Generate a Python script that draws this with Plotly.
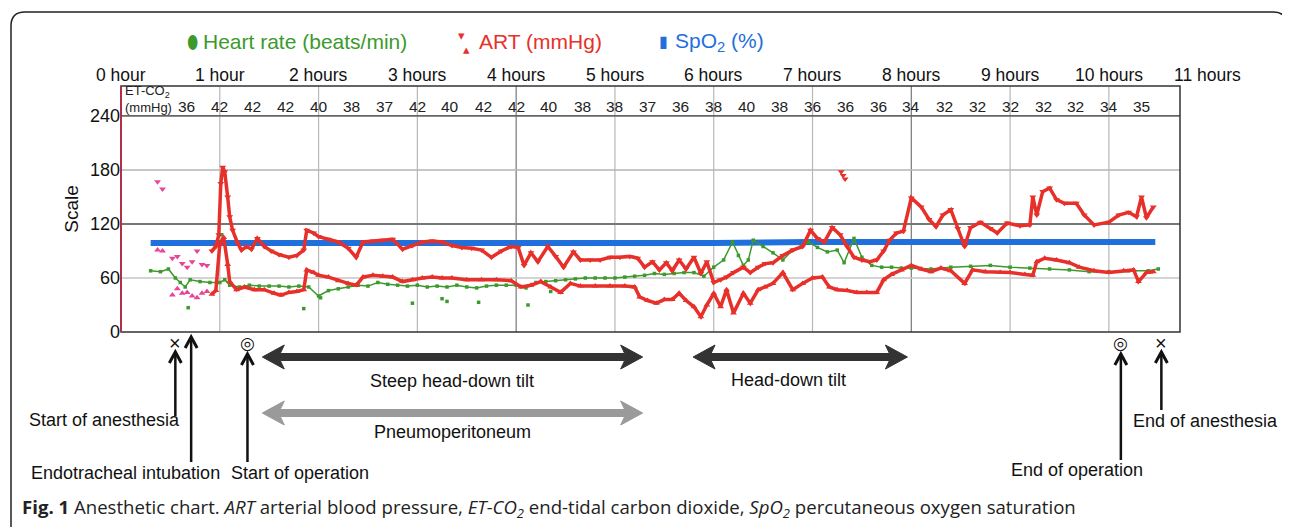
import plotly.graph_objects as go

# ---------------- data ----------------
hours_labels = ["0 hour", "1 hour", "2 hours", "3 hours", "4 hours", "5 hours", "6 hours",
                "7 hours", "8 hours", "9 hours", "10 hours", "11 hours"]
hours_pos = [0, 1, 2, 3, 4, 5, 6, 7, 8, 9, 10, 11]

etco2_times = [0.667 + i / 3 for i in range(30)]
etco2_vals = [36, 42, 42, 42, 40, 38, 37, 42, 40, 42, 42, 40, 38, 38, 37,
              36, 38, 40, 38, 36, 36, 36, 34, 32, 32, 32, 32, 32, 34, 35]

spo2_t = [0.3, 1.0, 2.0, 3.0, 4.0, 5.0, 6.0, 7.0, 8.0, 9.0, 10.0, 10.47]
spo2 = [99, 99, 98, 99, 99, 99, 99, 100, 100, 101, 101, 100]

hr_t = [0.3, 0.4, 0.48, 0.55, 0.6, 0.65, 0.7, 0.8, 0.9, 1.0, 1.05, 1.1, 1.2, 1.3, 1.4, 1.5,
        1.6, 1.7, 1.8, 1.9, 2.0, 2.1, 2.2, 2.3, 2.4, 2.5, 2.6, 2.7, 2.8, 2.9, 3.0, 3.1,
        3.2, 3.3, 3.4, 3.5, 3.6, 3.7, 3.8, 3.9, 4.0, 4.1, 4.2, 4.3, 4.4, 4.5, 4.6, 4.7,
        4.8, 4.9, 5.0, 5.1, 5.2, 5.3, 5.4, 5.5, 5.6, 5.7, 5.8, 5.9, 6.0, 6.1, 6.19, 6.25,
        6.3, 6.35, 6.4, 6.5, 6.6, 6.7, 6.8, 6.9, 6.96, 7.05, 7.15, 7.25, 7.32, 7.42, 7.5,
        7.6, 7.7, 7.8, 7.9, 8.0, 8.2, 8.4, 8.6, 8.8, 9.0, 9.2, 9.4, 9.6, 9.8, 10.0, 10.2,
        10.4, 10.5]
hr = [68, 67, 70, 60, 55, 50, 58, 56, 55, 55, 58, 52, 50, 52, 51, 51,
      51, 50, 51, 50, 40, 46, 48, 50, 52, 51, 55, 53, 52, 51, 52, 50,
      51, 50, 52, 50, 49, 51, 52, 52, 52, 49, 55, 56, 57, 58, 59, 60,
      60, 60, 60, 61, 62, 63, 65, 64, 65, 66, 66, 62, 72, 80, 100, 85,
      74, 80, 102, 95, 88, 80, 91, 96, 100, 94, 89, 91, 77, 104, 83,
      74, 72, 72, 71, 71, 70, 72, 73, 74, 72, 71, 70, 69, 67, 67, 68,
      68, 70]
hr_out_t = [0.68, 1.02, 1.85, 2.02, 2.95, 3.25, 3.3, 3.62, 4.12, 4.35]
hr_out = [27, 108, 26, 38, 32, 37, 34, 33, 30, 45]

nibp_t = [0.37, 0.42, 0.52, 0.57, 0.62, 0.67, 0.72, 0.77, 0.82, 0.87]
nibp_sys = [167, 159, 82, 84, 76, 72, 78, 90, 75, 74]
nibp_dia = [91, 90, 41, 48, 43, 44, 40, 38, 43, 45]

sys_t = [0.92, 0.96, 0.99, 1.01, 1.03, 1.05, 1.08, 1.10, 1.13, 1.18, 1.22, 1.27, 1.32, 1.38,
         1.45, 1.52, 1.6, 1.7, 1.78, 1.85, 1.88, 1.95, 2.0, 2.1, 2.2, 2.3, 2.38, 2.45, 2.55,
         2.65, 2.75, 2.85, 2.95, 3.05, 3.15, 3.25, 3.35, 3.45, 3.55, 3.65, 3.75, 3.85, 3.95,
         4.02, 4.08, 4.15, 4.22, 4.32, 4.4, 4.48, 4.58, 4.65, 4.75, 4.85, 4.95, 5.05, 5.15,
         5.23, 5.3, 5.38, 5.45, 5.52, 5.58, 5.65, 5.72, 5.8, 5.87, 5.93, 6.0, 6.07, 6.13,
         6.2, 6.3, 6.37, 6.45, 6.52, 6.6, 6.7, 6.8, 6.9, 6.98, 7.05, 7.12, 7.2, 7.28, 7.35,
         7.42, 7.5, 7.58, 7.65, 7.72, 7.78, 7.85, 7.92, 8.0, 8.1, 8.18, 8.25, 8.32, 8.4,
         8.47, 8.54, 8.6, 8.7, 8.8, 8.87, 8.97, 9.1, 9.2, 9.23, 9.27, 9.33, 9.4, 9.47, 9.55,
         9.67, 9.75, 9.85, 10.0, 10.1, 10.2, 10.28, 10.33, 10.38, 10.45]
sys_v = [90, 95, 108, 165, 183, 178, 150, 128, 113, 99, 91, 95, 92, 104,
         95, 90, 86, 83, 85, 91, 113, 110, 106, 103, 100, 93, 83, 100, 101,
         102, 103, 92, 96, 100, 101, 100, 96, 94, 93, 91, 83, 90, 95,
         94, 74, 88, 78, 95, 84, 72, 89, 80, 80, 80, 83, 83, 84,
         82, 72, 78, 69, 77, 68, 80, 70, 83, 65, 78, 55, 58, 61,
         66, 72, 66, 72, 76, 77, 85, 91, 95, 113, 104, 100, 116, 108, 95,
         83, 80, 78, 80, 90, 102, 110, 112, 149, 139, 125, 117, 130, 136,
         115, 95, 116, 122, 115, 110, 121, 118, 119, 150, 130, 156, 160, 147, 143,
         143, 130, 119, 122, 130, 133, 128, 150, 127, 139]
sys_out_t = [7.29, 7.31, 7.33]
sys_out = [178, 174, 170]

dia_t = [0.92, 0.96, 1.0, 1.04, 1.08, 1.1, 1.17, 1.25, 1.35, 1.45, 1.55, 1.62, 1.7, 1.78,
         1.85, 1.88, 1.95, 2.0, 2.1, 2.2, 2.3, 2.38, 2.45, 2.55, 2.65, 2.75, 2.85, 2.95,
         3.05, 3.15, 3.25, 3.35, 3.5, 3.65, 3.8, 3.95, 4.05, 4.15, 4.25, 4.35, 4.45, 4.55,
         4.65, 4.8, 4.95, 5.1, 5.2, 5.25, 5.33, 5.42, 5.5, 5.58, 5.65, 5.72, 5.8, 5.87,
         5.93, 6.0, 6.07, 6.13, 6.2, 6.3, 6.37, 6.45, 6.52, 6.6, 6.7, 6.8, 6.9, 7.0, 7.1,
         7.17, 7.25, 7.35, 7.45, 7.55, 7.65, 7.72, 7.8, 7.9, 8.0, 8.1, 8.2, 8.3, 8.4, 8.54,
         8.62, 8.75, 8.9, 9.0, 9.15, 9.23, 9.27, 9.35, 9.47, 9.6, 9.7, 9.85, 10.0, 10.15,
         10.25, 10.3, 10.38, 10.45]
dia_v = [42, 46, 98, 105, 75, 56, 47, 50, 47, 47, 43, 41, 44, 45,
         47, 69, 66, 63, 61, 57, 54, 52, 61, 63, 62, 61, 56, 58,
         60, 61, 60, 60, 58, 58, 58, 57, 50, 52, 56, 50, 44, 54,
         51, 51, 51, 51, 50, 39, 35, 32, 36, 36, 43, 35, 28, 17,
         30, 43, 28, 47, 21, 43, 32, 47, 50, 54, 66, 47, 54, 60, 61,
         50, 47, 46, 44, 44, 44, 58, 64, 69, 74, 70, 67, 71, 68, 54,
         69, 67, 66, 66, 64, 63, 78, 82, 80, 77, 72, 68, 66, 68,
         69, 56, 66, 67]

# event times (hours) and bar periods
event_hours = [0.55, 0.71, 1.28, 10.12, 10.53]
event_symbols = ["×", "", "◎", "◎", "×"]
period_start = [1.43, 5.79, 1.43]
period_end = [5.28, 7.96, 5.28]

# ---------------- styling ----------------
RED = "#e8302a"
GREEN = "#3c9a2c"
BLUE = "#1f6fdc"
PINK = "#e8449a"
FONT = "Liberation Sans, Arial, sans-serif"

X_MAX = 10.72
Y_MAX = 273.3
PX_PER_H = 98.8

fig = go.Figure()

fig.add_trace(go.Scatter(x=spo2_t, y=spo2, mode="lines",
                         line=dict(color=BLUE, width=6), hoverinfo="skip"))
fig.add_trace(go.Scatter(x=hr_t, y=hr, mode="lines+markers",
                         line=dict(color=GREEN, width=1.5),
                         marker=dict(color=GREEN, size=3.5, symbol="square"), hoverinfo="skip"))
fig.add_trace(go.Scatter(x=hr_out_t, y=hr_out, mode="markers",
                         marker=dict(color=GREEN, size=3.5, symbol="square"), hoverinfo="skip"))
fig.add_trace(go.Scatter(x=nibp_t, y=nibp_sys, mode="markers",
                         marker=dict(color=PINK, size=6, symbol="triangle-down"), hoverinfo="skip"))
fig.add_trace(go.Scatter(x=nibp_t, y=nibp_dia, mode="markers",
                         marker=dict(color=PINK, size=6, symbol="triangle-up"), hoverinfo="skip"))
fig.add_trace(go.Scatter(x=sys_t, y=sys_v, mode="lines+markers",
                         line=dict(color=RED, width=3.5),
                         marker=dict(color=RED, size=6, symbol="triangle-down"), hoverinfo="skip"))
fig.add_trace(go.Scatter(x=sys_out_t, y=sys_out, mode="markers",
                         marker=dict(color=RED, size=6, symbol="triangle-down"), hoverinfo="skip"))
fig.add_trace(go.Scatter(x=dia_t, y=dia_v, mode="lines+markers",
                         line=dict(color=RED, width=3.5),
                         marker=dict(color=RED, size=6, symbol="triangle-up"), hoverinfo="skip"))


# reference-pixel -> paper helpers (plot area spans x 121..1180, y 86..332 on the page)
def px(xp):
    return (xp - 121) / 1059.0


def py(yp):
    return (332 - yp) / 246.0


def hx(h):
    return 121 + h * PX_PER_H


# ---------------- grid lines ----------------
shapes = []
for h in range(1, 11):
    shapes.append(dict(type="line", xref="x", yref="paper", x0=h, x1=h, y0=0, y1=1,
                       line=dict(color="#777" if h in (4, 8) else "#b8b8b8", width=1.2),
                       layer="below"))
for yv, col, w in [(60, "#c4c4c4", 1.5), (120, "#777", 1.8), (180, "#b4b4b4", 1.5), (240, "#666", 1.8)]:
    shapes.append(dict(type="line", xref="paper", yref="y", x0=0, x1=1, y0=yv, y1=yv,
                       line=dict(color=col, width=w), layer="below"))
shapes.append(dict(type="rect", xref="paper", yref="paper", x0=0, x1=1, y0=0, y1=1,
                   line=dict(color="#333", width=1.5)))
shapes.append(dict(type="line", xref="paper", yref="paper", x0=0, x1=0, y0=0, y1=1,
                   line=dict(color="#b03048", width=2)))

# outer rounded frame
r = 14
L, T, R, B = 11, 12, 1287, 560
path = (f"M {px(L)},{py(B)} L {px(L)},{py(T + r)} "
        f"Q {px(L)},{py(T)} {px(L + r)},{py(T)} L {px(R - r)},{py(T)} "
        f"Q {px(R)},{py(T)} {px(R)},{py(T + r)} L {px(R)},{py(B)}")
shapes.append(dict(type="path", xref="paper", yref="paper", path=path,
                   line=dict(color="#222", width=1.5)))


# double-headed block arrows
def double_arrow(x0, x1, yc, color):
    hl, hh, bh, notch = 22, 12, 3.5, 4
    pts = [(x0, yc), (x0 + hl, yc - hh), (x0 + hl - notch, yc - bh), (x1 - hl + notch, yc - bh),
           (x1 - hl, yc - hh), (x1, yc), (x1 - hl, yc + hh), (x1 - hl + notch, yc + bh),
           (x0 + hl - notch, yc + bh), (x0 + hl, yc + hh)]
    d = "M " + " L ".join(f"{px(a)},{py(b)}" for a, b in pts) + " Z"
    return dict(type="path", xref="paper", yref="paper", path=d, fillcolor=color,
                line=dict(color=color, width=1))


for h0, h1, ypx, col in zip(period_start, period_end, [357, 357, 413], ["#333", "#333", "#9a9a9a"]):
    shapes.append(double_arrow(hx(h0), hx(h1), ypx, col))

# vertical event arrows with chevron heads
arrow_heads = [352, 337, 354, 354, 352]
arrow_tails = [416, 462, 462, 460, 410]
for h, hy, ty in zip(event_hours, arrow_heads, arrow_tails):
    x = hx(h)
    shapes.append(dict(type="line", xref="paper", yref="paper", x0=px(x), x1=px(x),
                       y0=py(hy + 1), y1=py(ty), line=dict(color="#111", width=2.5)))
    shapes.append(dict(type="path", xref="paper", yref="paper",
                       path=f"M {px(x - 6)},{py(hy + 11)} L {px(x)},{py(hy)} L {px(x + 6)},{py(hy + 11)}",
                       line=dict(color="#111", width=3)))

annotations = []


def ann(x, y, text, size, color="#111", xref="paper", xanchor="center", family=FONT, **kw):
    d = dict(x=x, y=y, xref=xref, yref="paper", text=text, showarrow=False,
             xanchor=xanchor, yanchor="middle", font=dict(size=size, color=color, family=family))
    d.update(kw)
    annotations.append(d)


for lab, h in zip(hours_labels, hours_pos):
    ann(px(hx(h)), py(75), lab, 17.5)
for t, v in zip(etco2_times, etco2_vals):
    ann(t, py(106), str(v), 15.5, color="#222", xref="x")
ann(px(123), py(99), "ET-CO<sub>2</sub><br>(mmHg)", 13, color="#222", xanchor="left", align="left")

# legend
ann(px(185), py(42), "⬮", 18, color=GREEN, xanchor="left")
ann(px(201), py(42), "Heart rate (beats/min)", 21, color=GREEN, xanchor="left")
ann(px(456), py(35), "▾", 13, color=RED, xanchor="left")
ann(px(461), py(49), "▴", 13, color=RED, xanchor="left")
ann(px(477), py(42), "ART (mmHg)", 21, color=RED, xanchor="left")
ann(px(657), py(42), "▮", 16, color=BLUE, xanchor="left")
ann(px(673), py(42), "SpO<sub>2</sub> (%)", 21, color=BLUE, xanchor="left")

# event symbols
for h, s in zip(event_hours, event_symbols):
    if s:
        ann(h, py(343), s, 20 if s == "×" else 17, xref="x")

labels_x = [452, 452, 788, 104, 125, 300, 1077, 1205]
labels_y = [381, 432, 380, 420, 473, 473, 470, 421]
labels_t = ["Steep head-down tilt", "Pneumoperitoneum", "Head-down tilt", "Start of anesthesia",
            "Endotracheal intubation", "Start of operation", "End of operation", "End of anesthesia"]
for xp, yp, t in zip(labels_x, labels_y, labels_t):
    ann(px(xp), py(yp), t, 18)

ann(px(20), py(508),
    ("<b>Fig. 1</b> Anesthetic chart. <i>ART</i> arterial blood pressure, "
     "<i>ET-CO<sub>2</sub></i> end-tidal carbon dioxide, <i>SpO<sub>2</sub></i> "
     "percutaneous oxygen saturation"),
    18.6, color="#222", xanchor="left", family="Open Sans, sans-serif")

# page body has an 8px margin: figure is shifted, so size/margins are reduced by 8px
fig.update_layout(
    width=1282, height=519,
    margin=dict(l=113, r=110, t=78, b=195),
    paper_bgcolor="white", plot_bgcolor="white",
    showlegend=False,
    font=dict(family=FONT, size=16, color="#111"),
    xaxis=dict(range=[0, X_MAX], showgrid=False, zeroline=False, showticklabels=False,
               ticks="", fixedrange=True),
    yaxis=dict(range=[0, Y_MAX], tickvals=[0, 60, 120, 180, 240], showgrid=False,
               zeroline=False, ticks="", tickfont=dict(size=18, color="#111"),
               title=dict(text="Scale", font=dict(size=19, color="#111"), standoff=6)),
    shapes=shapes,
    annotations=annotations,
)

fig.write_html("out.html")
